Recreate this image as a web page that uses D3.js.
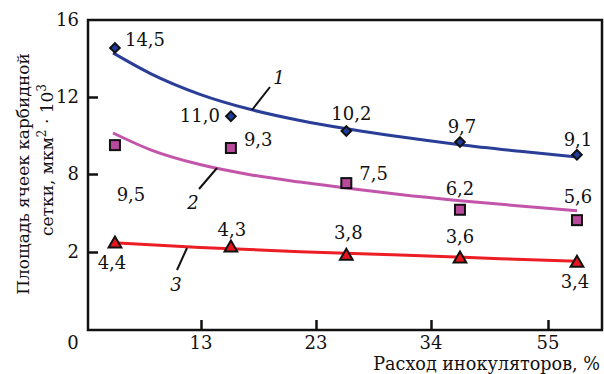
<!DOCTYPE html>
<html>
<head>
<meta charset="utf-8">
<script src="https://cdn.jsdelivr.net/npm/d3@7"></script>
<style>
  body { margin: 0; background: #fff; }
  svg text { font-family: "DejaVu Serif", serif; fill: #111; }
</style>
</head>
<body>
<svg id="chart" width="604" height="374"></svg>
<script>
// axis ticks (the chart uses uneven tick values on evenly spaced marks)
const xTicks = [0, 13, 23, 34, 55]
const yTicks = [0, 2, 8, 12, 16]

// measured points, x in axis units
const pointX = [3.1, 15.6, 25.9, 39.2, 60.2]
const series1 = [14.55, 11.0, 10.23, 9.66, 9.0]
const series2 = [9.5, 9.35, 7.3, 5.25, 4.45]
const series3 = [2.7, 2.4, 1.92, 1.85, 1.74]

// value labels printed next to points
const labels1 = ['14,5', '11,0', '10,2', '9,7', '9,1']
const labels2 = ['9,5', '9,3', '7,5', '6,2', '5,6']
const labels3 = ['4,4', '4,3', '3,8', '3,6', '3,4']

// trend curves
const curveX = [2.88, 7.13, 12.88, 17.26, 21.61, 26.25, 31.03, 39.21, 49.97, 60.21]
const curve1Y = [14.29, 13.23, 12.14, 11.36, 10.78, 10.32, 9.93, 9.52, 9.18, 8.88]
const curve2Y = [10.13, 9.27, 8.49, 7.95, 7.38, 6.88, 6.42, 5.95, 5.54, 5.18]
const curve3X = [3.45, 12.88, 21.61, 31.03, 46.38, 60.21]
const curve3Y = [2.69, 2.35, 2.02, 1.92, 1.83, 1.76]

const svg = d3.select('#chart')

const mLeft = 88, mRight = 602, mTop = 20, mBottom = 330

const x = d3.scaleLinear().domain(xTicks).range([88, 201, 316, 431, 548])
const y = d3.scaleLinear().domain(yTicks).range([330, 252, 174, 97, 20])

// frame
svg.append('rect')
  .attr('x', mLeft).attr('y', mTop)
  .attr('width', mRight - mLeft).attr('height', mBottom - mTop)
  .attr('fill', 'none').attr('stroke', '#111').attr('stroke-width', 2.5)

// inner ticks
const xAxis = svg.append('g').attr('transform', `translate(0,${mBottom})`)
  .call(d3.axisTop(x).tickValues(xTicks.slice(1)).tickSize(10).tickFormat(''))
xAxis.select('.domain').remove()
xAxis.selectAll('line').attr('stroke', '#111').attr('stroke-width', 2.5)

const yAxis = svg.append('g').attr('transform', `translate(${mLeft},0)`)
  .call(d3.axisRight(y).tickValues(yTicks.slice(1, 4)).tickSize(10).tickFormat(''))
yAxis.select('.domain').remove()
yAxis.selectAll('line').attr('stroke', '#111').attr('stroke-width', 2.5)

// tick labels
svg.selectAll('.xlab').data(xTicks.slice(1)).enter().append('text')
  .attr('x', d => x(d)).attr('y', 349)
  .attr('text-anchor', 'middle').style('font-size', '18px')
  .text(d => d)

svg.selectAll('.ylab').data(yTicks.slice(1)).enter().append('text')
  .attr('x', 79).attr('y', d => y(d) + 6)
  .attr('text-anchor', 'end').style('font-size', '18px')
  .text(d => d)

svg.append('text').attr('x', 73).attr('y', 349)
  .attr('text-anchor', 'middle').style('font-size', '18px').text('0')

// axis titles
svg.append('text').attr('x', 600).attr('y', 370)
  .attr('text-anchor', 'end').style('font-size', '17.6px')
  .text('Расход инокуляторов, %')

svg.append('text')
  .attr('transform', 'translate(29,174) rotate(-90)')
  .attr('text-anchor', 'middle').style('font-size', '17px')
  .text('Площадь ячеек карбидной')

const yt2 = svg.append('text')
  .attr('transform', 'translate(53,160) rotate(-90)')
  .attr('text-anchor', 'middle').style('font-size', '17px')
yt2.append('tspan').text('сетки, мкм')
yt2.append('tspan').attr('dy', -7).style('font-size', '12px').text('2')
yt2.append('tspan').attr('dy', 7).text(' · 10')
yt2.append('tspan').attr('dy', -7).style('font-size', '12px').text('3')

// curves
const line = d3.line().x(d => x(d[0])).y(d => y(d[1])).curve(d3.curveMonotoneX)
const curves = [
  { xs: curveX, ys: curve1Y, color: '#2a3d97' },
  { xs: curveX, ys: curve2Y, color: '#c255aa' },
  { xs: curve3X, ys: curve3Y, color: '#ec1d25' }
]
curves.forEach(c => {
  svg.append('path')
    .datum(c.xs.map((v, i) => [v, c.ys[i]]))
    .attr('d', line)
    .attr('fill', 'none').attr('stroke', c.color).attr('stroke-width', 3)
})

// curve number leaders
const leaders = [
  { x1: 252, y1: 110, x2: 270, y2: 87, tx: 279, ty: 84, t: '1' },
  { x1: 217, y1: 168, x2: 199, y2: 189, tx: 193, ty: 209, t: '2' },
  { x1: 187, y1: 248, x2: 177, y2: 270, tx: 176, ty: 291, t: '3' }
]
leaders.forEach(l => {
  svg.append('line').attr('x1', l.x1).attr('y1', l.y1).attr('x2', l.x2).attr('y2', l.y2)
    .attr('stroke', '#111').attr('stroke-width', 2)
  svg.append('text').attr('x', l.tx).attr('y', l.ty)
    .attr('text-anchor', 'middle').style('font-size', '18px').style('font-style', 'italic')
    .text(l.t)
})

// markers
const diamond = d3.symbol().type(d3.symbolSquare).size(46)
svg.selectAll('.m1').data(series1).enter().append('path')
  .attr('d', diamond)
  .attr('transform', (d, i) => `translate(${x(pointX[i])},${y(d)}) rotate(45)`)
  .attr('fill', '#1f3c9c').attr('stroke', '#111').attr('stroke-width', 2)

svg.selectAll('.m2').data(series2).enter().append('rect')
  .attr('x', (d, i) => x(pointX[i]) - 5).attr('y', d => y(d) - 5)
  .attr('width', 10).attr('height', 10)
  .attr('fill', '#b9499d').attr('stroke', '#111').attr('stroke-width', 2)

const tri = d3.symbol().type(d3.symbolTriangle).size(70)
svg.selectAll('.m3').data(series3).enter().append('path')
  .attr('d', tri)
  .attr('transform', (d, i) => `translate(${x(pointX[i])},${y(d) + 1})`)
  .attr('fill', '#e8141c').attr('stroke', '#111').attr('stroke-width', 2)

// value labels: offsets relative to each marker
const off1 = [[10, -2, 'start'], [-11, 6, 'end'], [5, -11, 'middle'], [2, -9, 'middle'], [1, -9, 'middle']]
const off2 = [[16, 56, 'middle'], [13, -2, 'start'], [13, -3, 'start'], [0, -15, 'middle'], [1, -17, 'middle']]
const off3 = [[-3, 26, 'middle'], [1, -11, 'middle'], [2, -16, 'middle'], [0, -15, 'middle'], [-2, 26, 'middle']]

const addLabels = (vals, labels, offs) => {
  labels.forEach((t, i) => {
    svg.append('text')
      .attr('x', x(pointX[i]) + offs[i][0])
      .attr('y', y(vals[i]) + offs[i][1])
      .attr('text-anchor', offs[i][2])
      .style('font-size', '18px')
      .text(t)
  })
}
addLabels(series1, labels1, off1)
addLabels(series2, labels2, off2)
addLabels(series3, labels3, off3)
</script>
</body>
</html>
